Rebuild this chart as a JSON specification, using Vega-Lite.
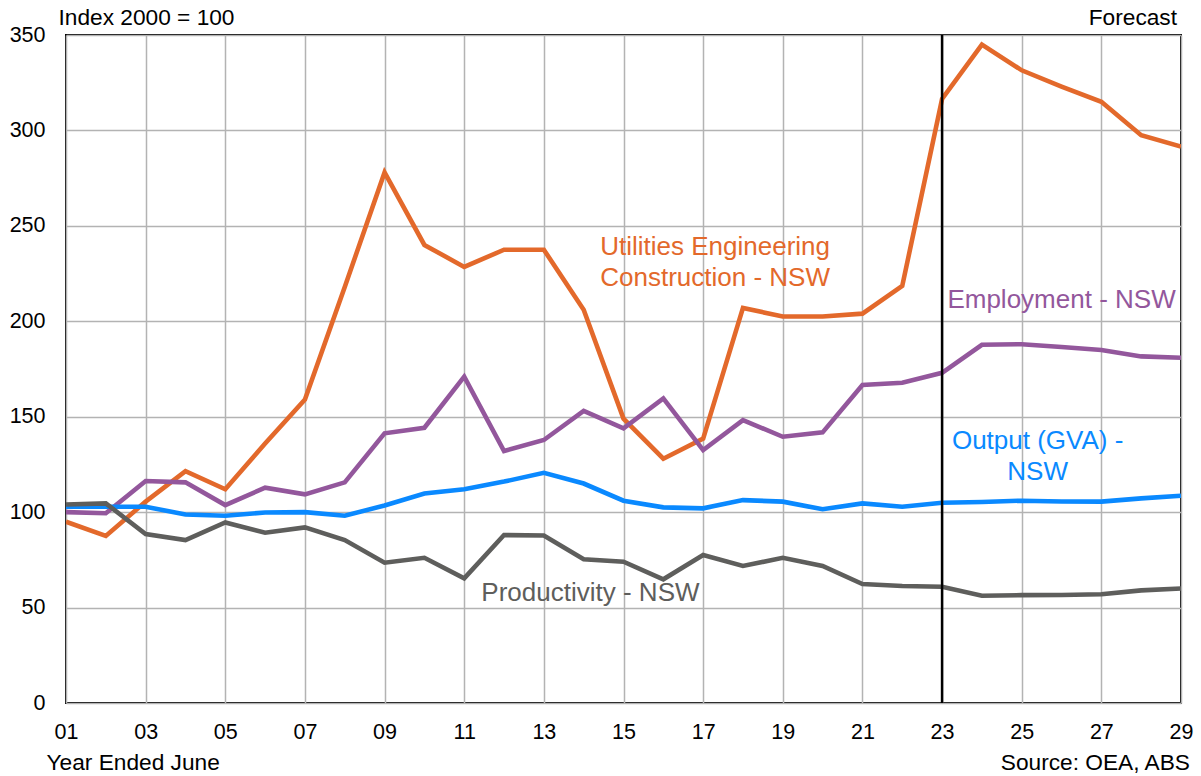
{
  "$schema": "https://vega.github.io/schema/vega-lite/v6.json",
  "width": 1115,
  "height": 668,
  "autosize": {"type": "none"},
  "padding": {"left": 66, "top": 35, "right": 20, "bottom": 73},
  "background": "white",
  "config": {
    "font": "Liberation Sans",
    "view": {"stroke": "#000000", "strokeWidth": 2},
    "axis": {
      "grid": true,
      "gridColor": "#B3B3B3",
      "gridWidth": 1.5,
      "ticks": false,
      "domain": false,
      "labelFont": "Liberation Sans",
      "labelFontSize": 21.5,
      "labelColor": "#000000",
      "titleFont": "Liberation Sans",
      "titleFontSize": 22.7,
      "titleFontWeight": "normal",
      "titleColor": "#000000"
    }
  },
  "datasets": {
    "series": [
      {"year": 1, "series": "Utilities", "value": 95},
      {"year": 2, "series": "Utilities", "value": 87.5},
      {"year": 3, "series": "Utilities", "value": 105.5},
      {"year": 4, "series": "Utilities", "value": 121.5},
      {"year": 5, "series": "Utilities", "value": 112},
      {"year": 6, "series": "Utilities", "value": 136},
      {"year": 7, "series": "Utilities", "value": 159},
      {"year": 8, "series": "Utilities", "value": 218},
      {"year": 9, "series": "Utilities", "value": 278},
      {"year": 10, "series": "Utilities", "value": 240},
      {"year": 11, "series": "Utilities", "value": 228.5},
      {"year": 12, "series": "Utilities", "value": 237.5},
      {"year": 13, "series": "Utilities", "value": 237.5},
      {"year": 14, "series": "Utilities", "value": 206},
      {"year": 15, "series": "Utilities", "value": 149},
      {"year": 16, "series": "Utilities", "value": 128},
      {"year": 17, "series": "Utilities", "value": 138.5},
      {"year": 18, "series": "Utilities", "value": 207},
      {"year": 19, "series": "Utilities", "value": 202.5},
      {"year": 20, "series": "Utilities", "value": 202.5},
      {"year": 21, "series": "Utilities", "value": 204},
      {"year": 22, "series": "Utilities", "value": 218.5},
      {"year": 23, "series": "Utilities", "value": 316.5},
      {"year": 24, "series": "Utilities", "value": 345},
      {"year": 25, "series": "Utilities", "value": 331.5},
      {"year": 26, "series": "Utilities", "value": 323},
      {"year": 27, "series": "Utilities", "value": 315},
      {"year": 28, "series": "Utilities", "value": 297.5},
      {"year": 29, "series": "Utilities", "value": 291.5},
      {"year": 1, "series": "Employment", "value": 100},
      {"year": 2, "series": "Employment", "value": 99.4},
      {"year": 3, "series": "Employment", "value": 116.3},
      {"year": 4, "series": "Employment", "value": 115.6},
      {"year": 5, "series": "Employment", "value": 103.7},
      {"year": 6, "series": "Employment", "value": 112.8},
      {"year": 7, "series": "Employment", "value": 109.3},
      {"year": 8, "series": "Employment", "value": 115.6},
      {"year": 9, "series": "Employment", "value": 141.3},
      {"year": 10, "series": "Employment", "value": 144.2},
      {"year": 11, "series": "Employment", "value": 171},
      {"year": 12, "series": "Employment", "value": 132},
      {"year": 13, "series": "Employment", "value": 137.8},
      {"year": 14, "series": "Employment", "value": 153},
      {"year": 15, "series": "Employment", "value": 143.9},
      {"year": 16, "series": "Employment", "value": 159.6},
      {"year": 17, "series": "Employment", "value": 132.5},
      {"year": 18, "series": "Employment", "value": 148.2},
      {"year": 19, "series": "Employment", "value": 139.5},
      {"year": 20, "series": "Employment", "value": 141.8},
      {"year": 21, "series": "Employment", "value": 166.6},
      {"year": 22, "series": "Employment", "value": 167.8},
      {"year": 23, "series": "Employment", "value": 173},
      {"year": 24, "series": "Employment", "value": 187.7},
      {"year": 25, "series": "Employment", "value": 188},
      {"year": 26, "series": "Employment", "value": 186.5},
      {"year": 27, "series": "Employment", "value": 185},
      {"year": 28, "series": "Employment", "value": 181.6},
      {"year": 29, "series": "Employment", "value": 180.9},
      {"year": 1, "series": "Output", "value": 102.8},
      {"year": 2, "series": "Output", "value": 102.8},
      {"year": 3, "series": "Output", "value": 102.8},
      {"year": 4, "series": "Output", "value": 98.8},
      {"year": 5, "series": "Output", "value": 98.1},
      {"year": 6, "series": "Output", "value": 99.8},
      {"year": 7, "series": "Output", "value": 100},
      {"year": 8, "series": "Output", "value": 98.1},
      {"year": 9, "series": "Output", "value": 103.5},
      {"year": 10, "series": "Output", "value": 109.8},
      {"year": 11, "series": "Output", "value": 112},
      {"year": 12, "series": "Output", "value": 116},
      {"year": 13, "series": "Output", "value": 120.6},
      {"year": 14, "series": "Output", "value": 115},
      {"year": 15, "series": "Output", "value": 106},
      {"year": 16, "series": "Output", "value": 102.5},
      {"year": 17, "series": "Output", "value": 102},
      {"year": 18, "series": "Output", "value": 106.3},
      {"year": 19, "series": "Output", "value": 105.5},
      {"year": 20, "series": "Output", "value": 101.5},
      {"year": 21, "series": "Output", "value": 104.6},
      {"year": 22, "series": "Output", "value": 102.8},
      {"year": 23, "series": "Output", "value": 104.9},
      {"year": 24, "series": "Output", "value": 105.3},
      {"year": 25, "series": "Output", "value": 106},
      {"year": 26, "series": "Output", "value": 105.6},
      {"year": 27, "series": "Output", "value": 105.5},
      {"year": 28, "series": "Output", "value": 107.2},
      {"year": 29, "series": "Output", "value": 108.6},
      {"year": 1, "series": "Productivity", "value": 104},
      {"year": 2, "series": "Productivity", "value": 104.6},
      {"year": 3, "series": "Productivity", "value": 88.5},
      {"year": 4, "series": "Productivity", "value": 85.4},
      {"year": 5, "series": "Productivity", "value": 94.6},
      {"year": 6, "series": "Productivity", "value": 89.2},
      {"year": 7, "series": "Productivity", "value": 92},
      {"year": 8, "series": "Productivity", "value": 85.4},
      {"year": 9, "series": "Productivity", "value": 73.5},
      {"year": 10, "series": "Productivity", "value": 76.1},
      {"year": 11, "series": "Productivity", "value": 65.3},
      {"year": 12, "series": "Productivity", "value": 88},
      {"year": 13, "series": "Productivity", "value": 87.8},
      {"year": 14, "series": "Productivity", "value": 75.3},
      {"year": 15, "series": "Productivity", "value": 74},
      {"year": 16, "series": "Productivity", "value": 64.8},
      {"year": 17, "series": "Productivity", "value": 77.5},
      {"year": 18, "series": "Productivity", "value": 71.8},
      {"year": 19, "series": "Productivity", "value": 76.1},
      {"year": 20, "series": "Productivity", "value": 71.8},
      {"year": 21, "series": "Productivity", "value": 62.3},
      {"year": 22, "series": "Productivity", "value": 61.3},
      {"year": 23, "series": "Productivity", "value": 60.9},
      {"year": 24, "series": "Productivity", "value": 56.2},
      {"year": 25, "series": "Productivity", "value": 56.5},
      {"year": 26, "series": "Productivity", "value": 56.6},
      {"year": 27, "series": "Productivity", "value": 57},
      {"year": 28, "series": "Productivity", "value": 59},
      {"year": 29, "series": "Productivity", "value": 60}
    ],
    "labels": [
      {"year": 17.3, "value": 238.9, "series": "Utilities", "label": ["Utilities Engineering", "Construction - NSW"]},
      {"year": 26.0, "value": 211, "series": "Employment", "label": ["Employment  - NSW"]},
      {"year": 25.4, "value": 137.2, "series": "Output", "label": ["Output (GVA) -", "NSW"]},
      {"year": 14.17, "value": 57.6, "series": "Productivity", "label": ["Productivity  - NSW"]}
    ]
  },
  "layer": [
    {
      "data": {"name": "series"},
      "mark": {"type": "line", "strokeWidth": 4.6, "strokeJoin": "miter", "clip": true},
      "encoding": {
        "x": {
          "field": "year", "type": "quantitative",
          "scale": {"domain": [1, 29], "nice": false, "zero": false},
          "axis": {
            "values": [1, 3, 5, 7, 9, 11, 13, 15, 17, 19, 21, 23, 25, 27, 29],
            "labelExpr": "datum.value < 10 ? '0' + datum.value : '' + datum.value",
            "labelPadding": 18,
            "labelFlush": false,
            "title": "Year Ended June",
            "titleAnchor": "start",
            "titleAlign": "left",
            "titleBaseline": "middle",
            "titleX": -20,
            "titleY": 59
          }
        },
        "y": {
          "field": "value", "type": "quantitative",
          "scale": {"domain": [0, 350], "nice": false},
          "axis": {
            "values": [0, 50, 100, 150, 200, 250, 300, 350],
            "labelPadding": 21,
            "labelFlush": false,
            "title": "Index 2000 = 100",
            "titleAngle": 0,
            "titleAlign": "left",
            "titleBaseline": "middle",
            "titleX": -8,
            "titleY": -18
          }
        },
        "color": {
          "field": "series", "type": "nominal",
          "scale": {
            "domain": ["Employment", "Output", "Productivity", "Utilities"],
            "range": ["#93579C", "#0A89FF", "#5E5E5C", "#E3692B"]
          },
          "legend": null
        }
      }
    },
    {
      "data": {"values": [{"year": 23}]},
      "mark": {"type": "rule", "color": "#000000", "strokeWidth": 2.5},
      "encoding": {"x": {"field": "year", "type": "quantitative"}}
    },
    {
      "data": {"name": "labels"},
      "mark": {"type": "text", "fontSize": 26, "font": "Liberation Sans", "align": "center", "baseline": "middle", "lineHeight": 31},
      "encoding": {
        "x": {"field": "year", "type": "quantitative"},
        "y": {"field": "value", "type": "quantitative"},
        "text": {"field": "label"},
        "color": {"field": "series", "type": "nominal", "legend": null}
      }
    },
    {
      "data": {"values": [{"year": 29, "value": 350, "label": "Forecast"}]},
      "mark": {"type": "text", "fontSize": 22.7, "align": "right", "baseline": "middle", "dx": -4, "dy": -17, "color": "#000000"},
      "encoding": {
        "x": {"field": "year", "type": "quantitative"},
        "y": {"field": "value", "type": "quantitative"},
        "text": {"field": "label"}
      }
    },
    {
      "data": {"values": [{"year": 29, "value": 0, "label": "Source: OEA, ABS"}]},
      "mark": {"type": "text", "fontSize": 22.7, "align": "right", "baseline": "middle", "dx": 9, "dy": 60, "color": "#000000", "clip": false},
      "encoding": {
        "x": {"field": "year", "type": "quantitative"},
        "y": {"field": "value", "type": "quantitative"},
        "text": {"field": "label"}
      }
    }
  ]
}
